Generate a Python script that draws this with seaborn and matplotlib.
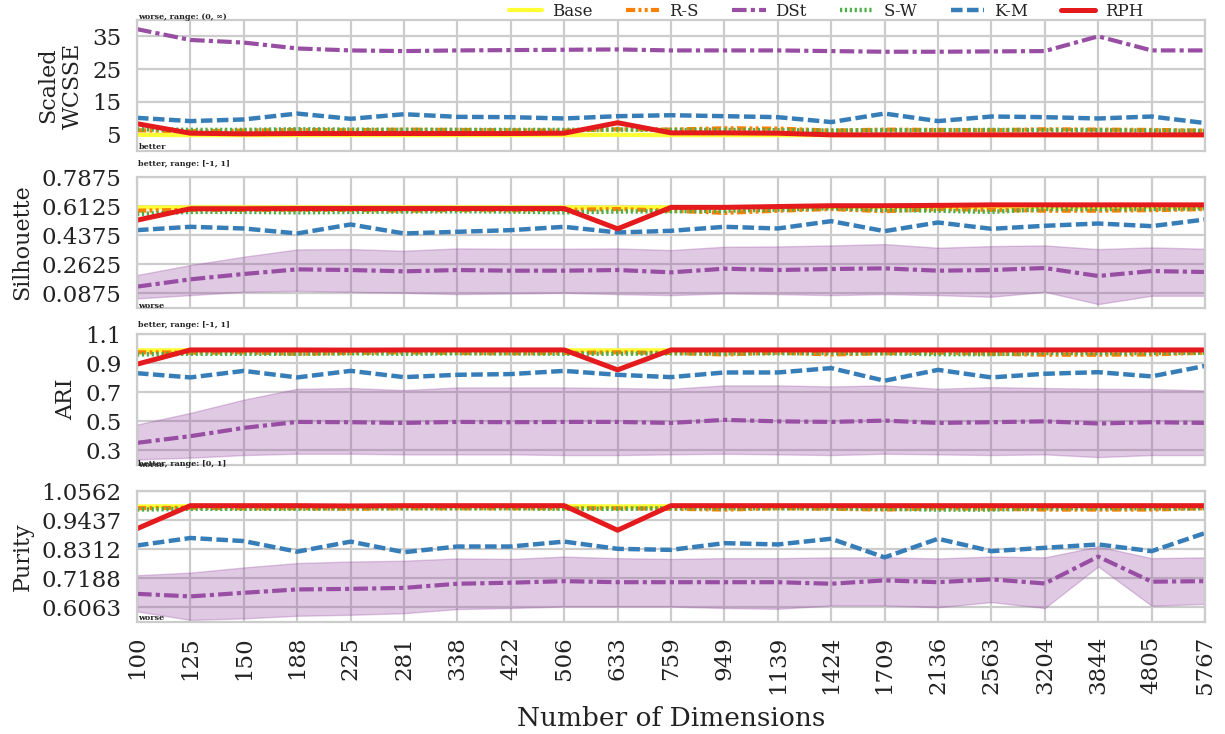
import matplotlib
matplotlib.use("Agg")
import matplotlib.pyplot as plt
import seaborn as sns

# ---------------- data ----------------
dims = ["100", "125", "150", "188", "225", "281", "338", "422", "506", "633", "759",
        "949", "1139", "1424", "1709", "2136", "2563", "3204", "3844", "4805", "5767"]
methods = ["Base", "R-S", "DSt", "S-W", "K-M", "RPH"]

# Scaled WCSSE
base_wcsse = [4.9, 4.8, 4.8, 4.8, 4.8, 4.8, 4.8, 4.8, 4.8, 4.9, 4.8, 4.8, 4.8, 4.8, 4.8, 4.8, 4.8, 4.8, 4.8, 4.8, 4.8]
rs_wcsse = [6.3, 6.0, 6.2, 6.4, 6.3, 6.5, 6.4, 6.3, 6.2, 6.6, 6.5, 6.9, 6.8, 6.2, 6.5, 6.4, 6.3, 6.6, 6.5, 6.4, 6.2]
dst_wcsse = [37.2, 33.9, 33.1, 31.3, 30.7, 30.5, 30.7, 30.8, 30.9, 31.0, 30.7, 30.7, 30.7, 30.5, 30.3, 30.3, 30.4, 30.5, 35.0, 30.7, 30.7]
sw_wcsse = [6.6, 6.4, 6.4, 6.6, 6.5, 6.4, 6.4, 6.4, 6.4, 6.5, 6.4, 6.4, 6.3, 6.2, 6.3, 6.3, 6.4, 6.3, 6.3, 6.2, 6.1]
km_wcsse = [10.1, 9.1, 9.6, 11.4, 9.8, 11.2, 10.4, 10.3, 9.9, 10.6, 10.9, 10.6, 10.3, 8.8, 11.4, 9.1, 10.5, 10.3, 9.9, 10.5, 8.5]
rph_wcsse = [8.3, 5.4, 5.2, 5.3, 5.3, 5.3, 5.3, 5.3, 5.4, 8.6, 5.5, 5.5, 5.4, 4.9, 4.9, 4.9, 4.9, 4.9, 4.9, 4.9, 4.9]

# Silhouette
base_sil = [0.604, 0.605, 0.605, 0.605, 0.605, 0.605, 0.605, 0.605, 0.605, 0.604, 0.606, 0.606, 0.607, 0.607, 0.607, 0.607, 0.607, 0.607, 0.607, 0.607, 0.607]
rs_sil = [0.585, 0.590, 0.590, 0.590, 0.590, 0.585, 0.590, 0.588, 0.590, 0.595, 0.585, 0.572, 0.585, 0.595, 0.582, 0.595, 0.590, 0.585, 0.585, 0.588, 0.595]
dst_sil = [0.128, 0.172, 0.204, 0.232, 0.228, 0.220, 0.228, 0.224, 0.224, 0.228, 0.214, 0.236, 0.228, 0.234, 0.238, 0.224, 0.228, 0.240, 0.192, 0.222, 0.216]
dst_sil_lo = [0.057, 0.077, 0.097, 0.103, 0.097, 0.091, 0.083, 0.087, 0.091, 0.083, 0.077, 0.087, 0.083, 0.077, 0.083, 0.077, 0.067, 0.097, 0.023, 0.073, 0.073]
dst_sil_hi = [0.198, 0.258, 0.308, 0.352, 0.354, 0.344, 0.358, 0.356, 0.356, 0.358, 0.348, 0.368, 0.370, 0.376, 0.384, 0.362, 0.372, 0.376, 0.354, 0.364, 0.356]
sw_sil = [0.565, 0.578, 0.578, 0.575, 0.578, 0.580, 0.582, 0.580, 0.575, 0.580, 0.582, 0.585, 0.592, 0.600, 0.590, 0.585, 0.578, 0.595, 0.595, 0.595, 0.600]
km_sil = [0.468, 0.488, 0.478, 0.448, 0.502, 0.448, 0.458, 0.468, 0.488, 0.454, 0.464, 0.488, 0.478, 0.522, 0.462, 0.514, 0.476, 0.494, 0.508, 0.492, 0.532]
rph_sil = [0.528, 0.597, 0.597, 0.598, 0.598, 0.598, 0.598, 0.598, 0.598, 0.476, 0.605, 0.605, 0.610, 0.615, 0.615, 0.617, 0.620, 0.620, 0.620, 0.620, 0.620]

# ARI
base_ari = [0.988, 0.989, 0.989, 0.989, 0.989, 0.989, 0.989, 0.989, 0.989, 0.988, 0.989, 0.989, 0.989, 0.989, 0.989, 0.989, 0.989, 0.989, 0.989, 0.989, 0.989]
rs_ari = [0.975, 0.972, 0.975, 0.965, 0.970, 0.975, 0.970, 0.968, 0.970, 0.975, 0.970, 0.960, 0.972, 0.960, 0.968, 0.972, 0.965, 0.958, 0.958, 0.960, 0.972]
dst_ari = [0.352, 0.398, 0.455, 0.496, 0.494, 0.489, 0.496, 0.494, 0.496, 0.496, 0.489, 0.510, 0.500, 0.496, 0.505, 0.489, 0.494, 0.500, 0.485, 0.494, 0.489]
dst_ari_lo = [0.238, 0.250, 0.268, 0.277, 0.277, 0.273, 0.273, 0.273, 0.268, 0.268, 0.273, 0.277, 0.273, 0.268, 0.277, 0.273, 0.268, 0.273, 0.254, 0.268, 0.268]
dst_ari_hi = [0.478, 0.558, 0.649, 0.724, 0.729, 0.715, 0.733, 0.733, 0.733, 0.729, 0.724, 0.747, 0.747, 0.740, 0.747, 0.724, 0.735, 0.729, 0.724, 0.722, 0.713]
sw_ari = [0.960, 0.965, 0.965, 0.965, 0.968, 0.965, 0.968, 0.968, 0.965, 0.965, 0.968, 0.968, 0.968, 0.970, 0.968, 0.962, 0.962, 0.970, 0.968, 0.970, 0.972]
km_ari = [0.831, 0.802, 0.847, 0.802, 0.847, 0.804, 0.820, 0.825, 0.847, 0.820, 0.804, 0.836, 0.836, 0.866, 0.779, 0.854, 0.802, 0.827, 0.838, 0.809, 0.881]
rph_ari = [0.893, 0.991, 0.991, 0.991, 0.990, 0.991, 0.991, 0.991, 0.991, 0.854, 0.991, 0.991, 0.991, 0.991, 0.991, 0.991, 0.991, 0.991, 0.991, 0.991, 0.991]

# Purity
base_pur = [0.997, 0.998, 0.998, 0.998, 0.998, 0.998, 0.998, 0.998, 0.998, 0.997, 0.998, 0.998, 0.998, 0.998, 0.998, 0.998, 0.998, 0.998, 0.998, 0.998, 0.998]
rs_pur = [0.990, 0.992, 0.990, 0.990, 0.988, 0.990, 0.990, 0.990, 0.990, 0.990, 0.988, 0.985, 0.990, 0.988, 0.985, 0.990, 0.988, 0.985, 0.985, 0.985, 0.990]
dst_pur = [0.659, 0.649, 0.663, 0.676, 0.678, 0.682, 0.698, 0.702, 0.708, 0.704, 0.704, 0.704, 0.704, 0.698, 0.711, 0.704, 0.715, 0.699, 0.803, 0.706, 0.708]
dst_pur_lo = [0.591, 0.558, 0.564, 0.574, 0.578, 0.584, 0.600, 0.604, 0.610, 0.610, 0.610, 0.604, 0.601, 0.614, 0.614, 0.607, 0.627, 0.604, 0.765, 0.613, 0.620]
dst_pur_hi = [0.731, 0.741, 0.761, 0.778, 0.784, 0.787, 0.796, 0.794, 0.803, 0.797, 0.794, 0.797, 0.797, 0.800, 0.800, 0.796, 0.803, 0.800, 0.842, 0.797, 0.800]
sw_pur = [0.985, 0.988, 0.988, 0.988, 0.990, 0.990, 0.990, 0.990, 0.988, 0.988, 0.990, 0.990, 0.990, 0.990, 0.988, 0.985, 0.985, 0.990, 0.990, 0.990, 0.990]
km_pur = [0.846, 0.875, 0.863, 0.822, 0.861, 0.820, 0.842, 0.842, 0.861, 0.833, 0.829, 0.855, 0.850, 0.872, 0.800, 0.872, 0.824, 0.837, 0.850, 0.824, 0.894]
rph_pur = [0.911, 1.000, 1.000, 1.000, 0.999, 1.000, 1.000, 1.000, 1.000, 0.905, 1.000, 1.000, 1.000, 1.000, 1.000, 1.000, 1.000, 1.000, 1.000, 1.000, 1.000]

ylabels = ["Scaled\nWCSSE", "Silhouette", "ARI", "Purity"]
wcsse_ticks = ["5", "15", "25", "35"]
sil_ticks = ["0.0875", "0.2625", "0.4375", "0.6125", "0.7875"]
ari_ticks = ["0.3", "0.5", "0.7", "0.9", "1.1"]
pur_ticks = ["0.6063", "0.7188", "0.8312", "0.9437", "1.0562"]
top_notes = ["worse, range: (0, \u221e)", "better, range: [-1, 1]", "better, range: [-1, 1]", "better, range: [0, 1]"]
bottom_notes = ["better", "worse", "worse", "worse"]

# ---------------- style ----------------
sns.set_theme(style="whitegrid")
plt.rcParams["font.family"] = ["DejaVu Serif"]
plt.rcParams["axes.edgecolor"] = "#cccccc"
plt.rcParams["grid.color"] = "#cccccc"

colors = {"Base": "#ffff33", "R-S": "#ff7f00", "DSt": "#984ea3",
          "S-W": "#4daf4a", "K-M": "#377eb8", "RPH": "#e41a1c"}
styles = {"Base": "-", "R-S": (0, (2.2, 0.8, 0.7, 0.8, 0.7, 0.8)),
          "DSt": (0, (3.5, 1.0, 1.0, 1.0)), "S-W": (0, (0.5, 0.6)),
          "K-M": (0, (2.6, 1.0)), "RPH": "-"}
widths = {"Base": 3.0, "R-S": 3.0, "DSt": 3.0, "S-W": 3.2, "K-M": 3.2, "RPH": 3.6}

panels = [
    {"Base": base_wcsse, "R-S": rs_wcsse, "DSt": dst_wcsse, "S-W": sw_wcsse, "K-M": km_wcsse, "RPH": rph_wcsse},
    {"Base": base_sil, "R-S": rs_sil, "DSt": dst_sil, "S-W": sw_sil, "K-M": km_sil, "RPH": rph_sil},
    {"Base": base_ari, "R-S": rs_ari, "DSt": dst_ari, "S-W": sw_ari, "K-M": km_ari, "RPH": rph_ari},
    {"Base": base_pur, "R-S": rs_pur, "DSt": dst_pur, "S-W": sw_pur, "K-M": km_pur, "RPH": rph_pur},
]
bands = [None, (dst_sil_lo, dst_sil_hi), (dst_ari_lo, dst_ari_hi), (dst_pur_lo, dst_pur_hi)]
tick_labels = [wcsse_ticks, sil_ticks, ari_ticks, pur_ticks]
tick_values = [[5, 15, 25, 35], [0.0875, 0.2625, 0.4375, 0.6125, 0.7875],
               [0.3, 0.5, 0.7, 0.9, 1.1], [0.60625, 0.71875, 0.83125, 0.94375, 1.05625]]
ylims = [(0, 40), (0, 0.7875), (0.2, 1.1), (0.55, 1.05625)]
top_off_px = [3, 13.5, 9, 27]
bot_off_px = [4, 2, 0, 4]

W, H = 1225, 734
fig = plt.figure(figsize=(W / 100, H / 100), dpi=100)
gs = fig.add_gridspec(4, 1, left=137 / W, right=1205 / W, top=1 - 20 / H,
                      bottom=1 - 622 / H, hspace=0.2)
xs = list(range(len(dims)))
handles = {}
for k in range(4):
    ax = fig.add_subplot(gs[k])
    ax.set_facecolor("white")
    if bands[k] is not None:
        lo, hi = bands[k]
        ax.fill_between(xs, lo, hi, color=colors["DSt"], alpha=0.3, linewidth=1.0,
                        edgecolor=(0.596, 0.306, 0.639, 0.45))
    for m in methods:
        sns.lineplot(x=xs, y=panels[k][m], ax=ax, color=colors[m], linewidth=widths[m],
                     linestyle=styles[m], legend=False)
        handles[m] = ax.lines[-1]
    ax.set_xlim(0, len(dims) - 1)
    ax.set_ylim(*ylims[k])
    ax.set_yticks(tick_values[k])
    ax.set_yticklabels(tick_labels[k])
    ax.set_xticks(xs)
    if k == 3:
        ax.set_xticklabels(dims, rotation=90)
        ax.set_xlabel("Number of Dimensions", fontsize=19, color="#222222", labelpad=8)
    else:
        ax.set_xticklabels([])
    ax.set_ylabel(ylabels[k], fontsize=16, color="#222222", labelpad=6)
    ax.tick_params(axis="both", labelsize=16.5, colors="#222222", length=0)
    ax.tick_params(axis="y", pad=11)
    ax.tick_params(axis="x", pad=10)
    ax.grid(True, color="#cccccc", linewidth=1.6)
    for s in ax.spines.values():
        s.set_color("#cccccc")
        s.set_linewidth(1.6)
    ax.annotate(top_notes[k], xy=(0, 1), xycoords="axes fraction",
                xytext=(1, top_off_px[k] * 0.72), textcoords="offset points",
                ha="left", va="center", fontsize=5.8, fontweight="bold", color="#222222")
    ax.annotate(bottom_notes[k], xy=(0, 0), xycoords="axes fraction",
                xytext=(1, bot_off_px[k] * 0.72), textcoords="offset points",
                ha="left", va="center", fontsize=5.8, fontweight="bold", color="#222222")

fig.legend([handles[m] for m in methods], methods, loc="center",
           bbox_to_anchor=(826 / W, 1 - 11 / H), ncol=6, frameon=False,
           fontsize=12, handlelength=2.0, handletextpad=0.6, columnspacing=2.0,
           labelcolor="#222222")

fig.savefig("out.png", dpi=100)
